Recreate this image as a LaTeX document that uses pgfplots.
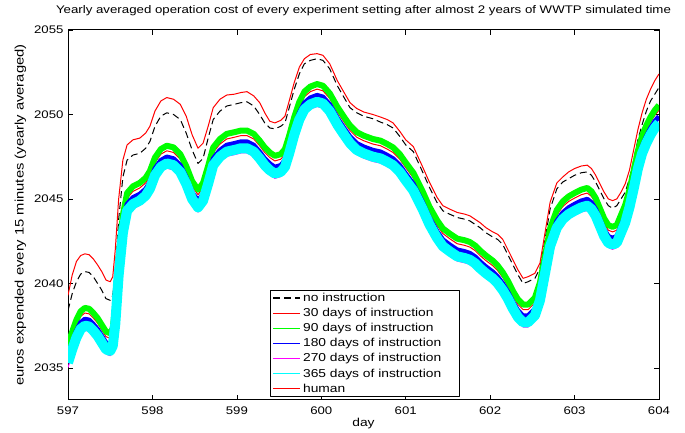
\documentclass[border=0pt]{standalone}
\usepackage{pgfplots}
\usepackage{pgfplotstable}
\usepackage{fontspec}
\setmainfont{Liberation Sans}[FakeStretch=1.2]
\pgfplotsset{compat=1.18}

\pgfplotstableread{
d H K G R B M C
597.00 2039.3 2038.4 2036.35 2036.05 2035.68 2035.02 2035.3
597.05 2040.5 2039.4 2037.15 2036.85 2036.48 2035.82 2036.1
597.10 2041.3 2040.1 2037.85 2037.55 2037.18 2036.52 2036.8
597.15 2041.65 2040.55 2038.35 2038.05 2037.68 2037.02 2037.3
597.20 2041.75 2040.7 2038.55 2038.25 2037.88 2037.22 2037.5
597.25 2041.7 2040.65 2038.5 2038.2 2037.83 2037.17 2037.45
597.30 2041.45 2040.4 2038.25 2037.95 2037.58 2036.92 2037.2
597.35 2041.1 2040.0 2037.95 2037.65 2037.28 2036.62 2036.9
597.40 2040.7 2039.6 2037.55 2037.25 2036.88 2036.22 2036.5
597.45 2040.2 2039.1 2037.15 2036.85 2036.48 2035.82 2036.1
597.50 2040.1 2039.0 2037.05 2036.75 2036.38 2035.72 2036.0
597.53 2040.4 2039.3 2037.35 2037.05 2036.68 2036.02 2036.3
597.56 2042.0 2040.6 2038.65 2038.35 2037.98 2037.32 2037.6
597.60 2045.0 2043.8 2041.55 2041.25 2040.88 2040.22 2040.5
597.65 2047.3 2046.3 2044.05 2043.75 2043.38 2042.72 2043.0
597.70 2048.2 2047.3 2045.35 2045.05 2044.68 2044.02 2044.3
597.77 2048.5 2047.6 2045.75 2045.45 2045.08 2044.42 2044.7
597.85 2048.6 2047.7 2045.95 2045.65 2045.28 2044.62 2044.9
597.92 2048.9 2048.0 2046.25 2045.95 2045.58 2044.92 2045.2
597.97 2049.3 2048.4 2046.65 2046.35 2045.98 2045.32 2045.6
598.03 2050.2 2049.3 2047.45 2047.15 2046.78 2046.12 2046.4
598.10 2050.8 2049.9 2047.95 2047.65 2047.28 2046.62 2046.9
598.17 2051.0 2050.1 2048.15 2047.85 2047.48 2046.82 2047.1
598.25 2050.9 2050.0 2048.05 2047.75 2047.38 2046.72 2047.0
598.33 2050.6 2049.7 2047.65 2047.35 2046.98 2046.32 2046.6
598.40 2049.9 2048.9 2046.95 2046.65 2046.28 2045.62 2045.9
598.47 2048.8 2047.9 2046.05 2045.75 2045.38 2044.72 2045.0
598.54 2048.0 2047.1 2045.55 2045.25 2044.88 2044.22 2044.5
598.60 2048.3 2047.4 2045.95 2045.65 2045.28 2044.62 2044.9
598.66 2049.3 2048.6 2046.95 2046.65 2046.28 2045.62 2045.9
598.72 2050.4 2049.7 2048.05 2047.75 2047.38 2046.72 2047.0
598.80 2050.9 2050.2 2048.55 2048.25 2047.88 2047.22 2047.5
598.88 2051.15 2050.5 2048.85 2048.55 2048.18 2047.52 2047.8
598.97 2051.2 2050.6 2048.95 2048.65 2048.28 2047.62 2047.9
599.05 2051.3 2050.7 2049.05 2048.75 2048.38 2047.72 2048.0
599.12 2051.35 2050.75 2049.05 2048.75 2048.38 2047.72 2048.0
599.20 2051.1 2050.5 2048.85 2048.55 2048.18 2047.52 2047.8
599.27 2050.7 2050.0 2048.45 2048.15 2047.78 2047.12 2047.4
599.33 2050.1 2049.5 2048.05 2047.75 2047.38 2046.72 2047.0
599.39 2049.6 2049.2 2047.75 2047.45 2047.08 2046.42 2046.7
599.45 2049.5 2049.15 2047.55 2047.25 2046.88 2046.22 2046.5
599.52 2049.65 2049.3 2047.65 2047.35 2046.98 2046.32 2046.6
599.57 2049.9 2049.5 2047.95 2047.65 2047.28 2046.62 2046.9
599.62 2050.8 2050.4 2048.75 2048.45 2048.08 2047.42 2047.7
599.68 2051.9 2051.5 2049.85 2049.55 2049.18 2048.52 2048.8
599.74 2052.8 2052.4 2050.75 2050.45 2050.08 2049.42 2049.7
599.80 2053.3 2053.0 2051.35 2051.05 2050.68 2050.02 2050.3
599.87 2053.55 2053.2 2051.65 2051.35 2050.98 2050.32 2050.6
599.95 2053.6 2053.3 2051.8 2051.5 2051.13 2050.47 2050.75
600.02 2053.5 2053.2 2051.7 2051.4 2051.03 2050.37 2050.65
600.10 2053.0 2052.7 2051.25 2050.95 2050.58 2049.92 2050.2
600.19 2052.0 2051.7 2050.45 2050.15 2049.78 2049.12 2049.4
600.27 2051.3 2051.0 2049.85 2049.55 2049.18 2048.52 2048.8
600.34 2050.7 2050.4 2049.35 2049.05 2048.68 2048.02 2048.3
600.42 2050.35 2050.1 2048.95 2048.65 2048.28 2047.62 2047.9
600.50 2050.15 2049.9 2048.75 2048.45 2048.08 2047.42 2047.7
600.61 2050.0 2049.75 2048.55 2048.25 2047.88 2047.22 2047.5
600.70 2049.85 2049.55 2048.45 2048.15 2047.78 2047.12 2047.4
600.78 2049.7 2049.4 2048.25 2047.95 2047.58 2046.92 2047.2
600.85 2049.5 2049.2 2048.05 2047.75 2047.38 2046.72 2047.0
600.93 2049.0 2048.7 2047.65 2047.35 2046.98 2046.32 2046.6
601.00 2048.5 2048.2 2047.15 2046.85 2046.48 2045.82 2046.1
601.09 2048.1 2047.8 2046.55 2046.25 2045.88 2045.22 2045.5
601.20 2046.9 2046.6 2045.45 2045.15 2044.78 2044.12 2044.4
601.28 2046.0 2045.7 2044.55 2044.25 2043.88 2043.22 2043.5
601.37 2045.1 2044.8 2043.75 2043.45 2043.08 2042.42 2042.7
601.44 2044.6 2044.3 2043.25 2042.95 2042.58 2041.92 2042.2
601.52 2044.4 2044.1 2042.95 2042.65 2042.28 2041.62 2041.9
601.61 2044.2 2043.9 2042.65 2042.35 2041.98 2041.32 2041.6
601.70 2044.1 2043.8 2042.55 2042.25 2041.88 2041.22 2041.5
601.76 2044.0 2043.7 2042.45 2042.15 2041.78 2041.12 2041.4
601.82 2043.8 2043.5 2042.25 2041.95 2041.58 2040.92 2041.2
601.88 2043.6 2043.3 2041.95 2041.65 2041.28 2040.62 2040.9
601.95 2043.3 2043.0 2041.65 2041.35 2040.98 2040.32 2040.6
602.03 2043.05 2042.75 2041.35 2041.05 2040.68 2040.02 2040.3
602.09 2042.9 2042.6 2041.05 2040.75 2040.38 2039.72 2040.0
602.15 2042.6 2042.3 2040.65 2040.35 2039.98 2039.32 2039.6
602.21 2042.0 2041.7 2040.15 2039.85 2039.48 2038.82 2039.1
602.27 2041.4 2041.1 2039.55 2039.25 2038.88 2038.22 2038.5
602.33 2040.8 2040.5 2039.05 2038.75 2038.38 2037.72 2038.0
602.39 2040.3 2040.0 2038.75 2038.45 2038.08 2037.42 2037.7
602.45 2040.4 2040.1 2038.75 2038.45 2038.08 2037.42 2037.7
602.53 2040.6 2040.3 2039.15 2038.85 2038.48 2037.82 2038.1
602.59 2041.2 2040.9 2040.05 2039.75 2039.38 2038.72 2039.0
602.65 2043.0 2042.6 2041.65 2041.35 2040.98 2040.32 2040.6
602.71 2044.8 2044.4 2043.25 2042.95 2042.58 2041.92 2042.2
602.79 2045.95 2045.6 2044.35 2044.05 2043.68 2043.02 2043.3
602.86 2046.3 2046.0 2044.85 2044.55 2044.18 2043.52 2043.8
602.93 2046.6 2046.2 2045.15 2044.85 2044.48 2043.82 2044.1
603.00 2046.8 2046.4 2045.35 2045.05 2044.68 2044.02 2044.3
603.08 2046.95 2046.55 2045.55 2045.25 2044.88 2044.22 2044.5
603.15 2047.0 2046.6 2045.65 2045.35 2044.98 2044.32 2044.6
603.20 2046.8 2046.4 2045.45 2045.15 2044.78 2044.12 2044.4
603.25 2046.4 2046.0 2045.05 2044.75 2044.38 2043.72 2044.0
603.30 2045.9 2045.5 2044.45 2044.15 2043.78 2043.12 2043.4
603.35 2045.4 2045.0 2043.85 2043.55 2043.18 2042.52 2042.8
603.40 2045.0 2044.6 2043.45 2043.15 2042.78 2042.12 2042.4
603.45 2044.9 2044.45 2043.35 2043.05 2042.68 2042.02 2042.3
603.50 2045.0 2044.6 2043.45 2043.15 2042.78 2042.12 2042.4
603.55 2045.4 2045.0 2044.05 2043.75 2043.38 2042.72 2043.0
603.60 2045.9 2045.4 2044.65 2044.35 2043.98 2043.32 2043.6
603.65 2046.7 2046.2 2045.55 2045.25 2044.88 2044.22 2044.5
603.70 2047.9 2047.3 2046.65 2046.35 2045.98 2045.32 2045.6
603.75 2049.1 2048.5 2047.85 2047.55 2047.18 2046.52 2046.8
603.80 2050.1 2049.4 2048.75 2048.45 2048.08 2047.42 2047.7
603.85 2050.9 2050.2 2049.35 2049.05 2048.68 2048.02 2048.3
603.90 2051.5 2050.8 2049.85 2049.55 2049.18 2048.52 2048.8
603.95 2052.0 2051.2 2050.25 2049.95 2049.58 2048.92 2049.2
604.00 2052.4 2051.6 2050.55 2050.25 2049.88 2049.22 2049.5
}\datatable

\definecolor{mred}{RGB}{255,0,0}
\definecolor{mgreen}{RGB}{0,255,0}
\definecolor{mblue}{RGB}{0,0,255}
\definecolor{mmag}{RGB}{255,0,255}
\definecolor{mcyan}{RGB}{0,255,255}

\begin{document}
\begin{tikzpicture}
\begin{axis}[
  name=ax,
  scale only axis,
  width=591pt, height=370pt,
  xmin=597, xmax=604,
  ymin=2033.1, ymax=2055,
  xtick={597,598,...,604},
  ytick={2035,2040,2045,2050,2055},
  tick align=inside,
  major tick length=5pt,
  tick style={black, line width=0.5pt},
  axis line style={black, line width=1pt},
  /pgf/number format/assume math mode=true,
  /pgf/number format/1000 sep={},
  ticklabel style={font=\fontsize{11}{13}\selectfont},
  yticklabel style={xshift=-1pt},
  xticklabel style={yshift=-3pt},
  title={Yearly averaged operation cost of every experiment setting after almost 2 years of WWTP simulated time},
  title style={font=\fontsize{11.05}{13}\selectfont, at={(0.5,1)}, anchor=south, yshift=6pt, inner sep=2pt},
  xlabel={day},
  xlabel style={font=\fontsize{11.5}{13}\selectfont, yshift=3pt},
  ylabel={euros expended every 15 minutes (yearly averaged)},
  ylabel style={font=\fontsize{12.3}{14}\selectfont, yshift=1pt},
  legend cell align=left,
  legend image code/.code={\draw[#1] (0pt,0pt) -- (27pt,0pt);},
  legend style={at={(0.341,0.008)}, anchor=south west, draw=black, line width=0.6pt,
    font=\fontsize{11.5}{13}\selectfont, inner xsep=3pt, inner ysep=1pt, row sep=1.3pt},
  line join=round,
]
\addlegendimage{black, line width=1.2pt, dash pattern=on 7pt off 4pt}
\addlegendimage{mred, line width=1.3pt}
\addlegendimage{mgreen, line width=1.3pt}
\addlegendimage{mblue, line width=1.3pt}
\addlegendimage{mmag, line width=1.3pt}
\addlegendimage{mcyan, line width=1.3pt}
\addlegendimage{mred, line width=1.3pt}
\addplot[forget plot, black, line width=1pt, dash pattern=on 7pt off 4pt] table[x=d, y=K] {\datatable};
\addplot[forget plot, mred, line width=1pt] table[x=d, y=R] {\datatable};
\addplot[forget plot, mgreen, line width=6pt] table[x=d, y=G] {\datatable};
\addplot[forget plot, mblue, line width=5pt] table[x=d, y=B] {\datatable};
\addplot[forget plot, mmag, line width=1pt] table[x=d, y=M] {\datatable};
\addplot[forget plot, mcyan, line width=10pt] table[x=d, y=C] {\datatable};
\addplot[forget plot, mred, line width=1pt] table[x=d, y=H] {\datatable};
\legend{no instruction, 30 days of instruction, 90 days of instruction, 180 days of instruction\hspace*{13pt}, 270 days of instruction, 365 days of instruction, human}
\end{axis}
\pgfresetboundingbox
\path ([shift={(-68pt,-33pt)}]ax.south west) rectangle ++(685pt,433pt);
\end{tikzpicture}
\end{document}
